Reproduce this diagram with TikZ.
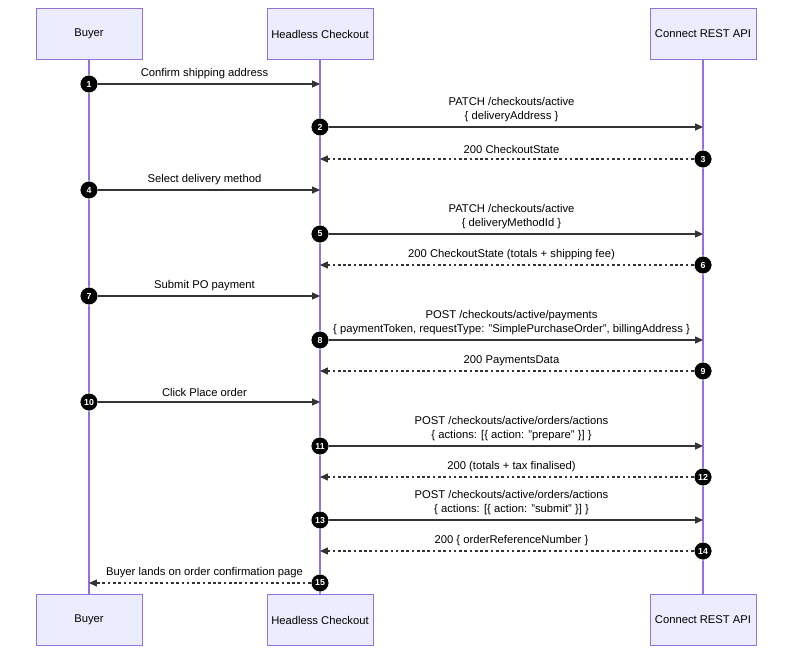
\documentclass[tikz,border=0pt]{standalone}
\usepackage{fontspec}
\setmainfont{Liberation Sans}
\usetikzlibrary{arrows.meta}
\definecolor{actfill}{HTML}{ECECFF}
\definecolor{actline}{HTML}{9370DB}
\definecolor{msgcol}{HTML}{333333}
\tikzset{
  actor/.style={rectangle, draw=actline, fill=actfill, minimum width=2.12cm, minimum height=1.02cm, font=\fontsize{6.4}{8}\selectfont, inner sep=0pt},
  life/.style={actline, line width=0.8pt},
  msg/.style={msgcol, line width=0.6pt, -{Triangle[length=4.5pt,width=4pt]}},
  reply/.style={msg, dash pattern=on 1.5pt off 1.5pt},
  num/.style={circle, fill=black, draw=white, line width=0.4pt, text=white, inner sep=0pt, minimum size=0.36cm, font=\fontsize{5}{5}\selectfont\bfseries},
  lbl/.style={font=\fontsize{6.4}{8}\selectfont, align=center, anchor=south, inner sep=1pt}
}
\begin{document}
\begin{tikzpicture}[x=0.02cm,y=-0.02cm]
\useasboundingbox (0,0) rectangle (800,659);
% actors
\node (bt) [actor] at (89,34) {Buyer};
\node (ht) [actor] at (320,34) {Headless Checkout};
\node (ct) [actor] at (703,34) {Connect REST API};
\node (bb) [actor] at (89,620) {Buyer};
\node (hb) [actor] at (320,620) {Headless Checkout};
\node (cb) [actor] at (703,620) {Connect REST API};
\draw[life] (bt) -- (bb);
\draw[life] (ht) -- (hb);
\draw[life] (ct) -- (cb);
% messages
\foreach \n/\y/\a/\b/\s/\t in {
  1/84/89/320/msg/{Confirm shipping address},
  2/127/320/703/msg/{PATCH /checkouts/active\\\{ deliveryAddress \}},
  3/159/703/320/reply/{200 CheckoutState},
  4/190/89/320/msg/{Select delivery method},
  5/234/320/703/msg/{PATCH /checkouts/active\\\{ deliveryMethodId \}},
  6/265/703/320/reply/{200 CheckoutState (totals + shipping fee)},
  7/296/89/320/msg/{Submit PO payment},
  8/340/320/703/msg/{POST /checkouts/active/payments\\\{ paymentToken, requestType: "SimplePurchaseOrder", billingAddress \}},
  9/371/703/320/reply/{200 PaymentsData},
  10/402/89/320/msg/{Click Place order},
  11/446/320/703/msg/{POST /checkouts/active/orders/actions\\\{ actions: [\{ action: "prepare" \}] \}},
  12/477/703/320/reply/{200 (totals + tax finalised)},
  13/520/320/703/msg/{POST /checkouts/active/orders/actions\\\{ actions: [\{ action: "submit" \}] \}},
  14/551/703/320/reply/{200 \{ orderReferenceNumber \}},
  15/583/320/89/reply/{Buyer lands on order confirmation page}}
{
  \coordinate (m\n) at (\b,\y);
  \node (n\n) [num] at (\a,\y) {\n};
  \draw[\s] (n\n) -- (m\n);
  \node (l\n) [lbl] at ({(\a+\b)/2},\y-3) {\t};
}
\end{tikzpicture}
\end{document}
